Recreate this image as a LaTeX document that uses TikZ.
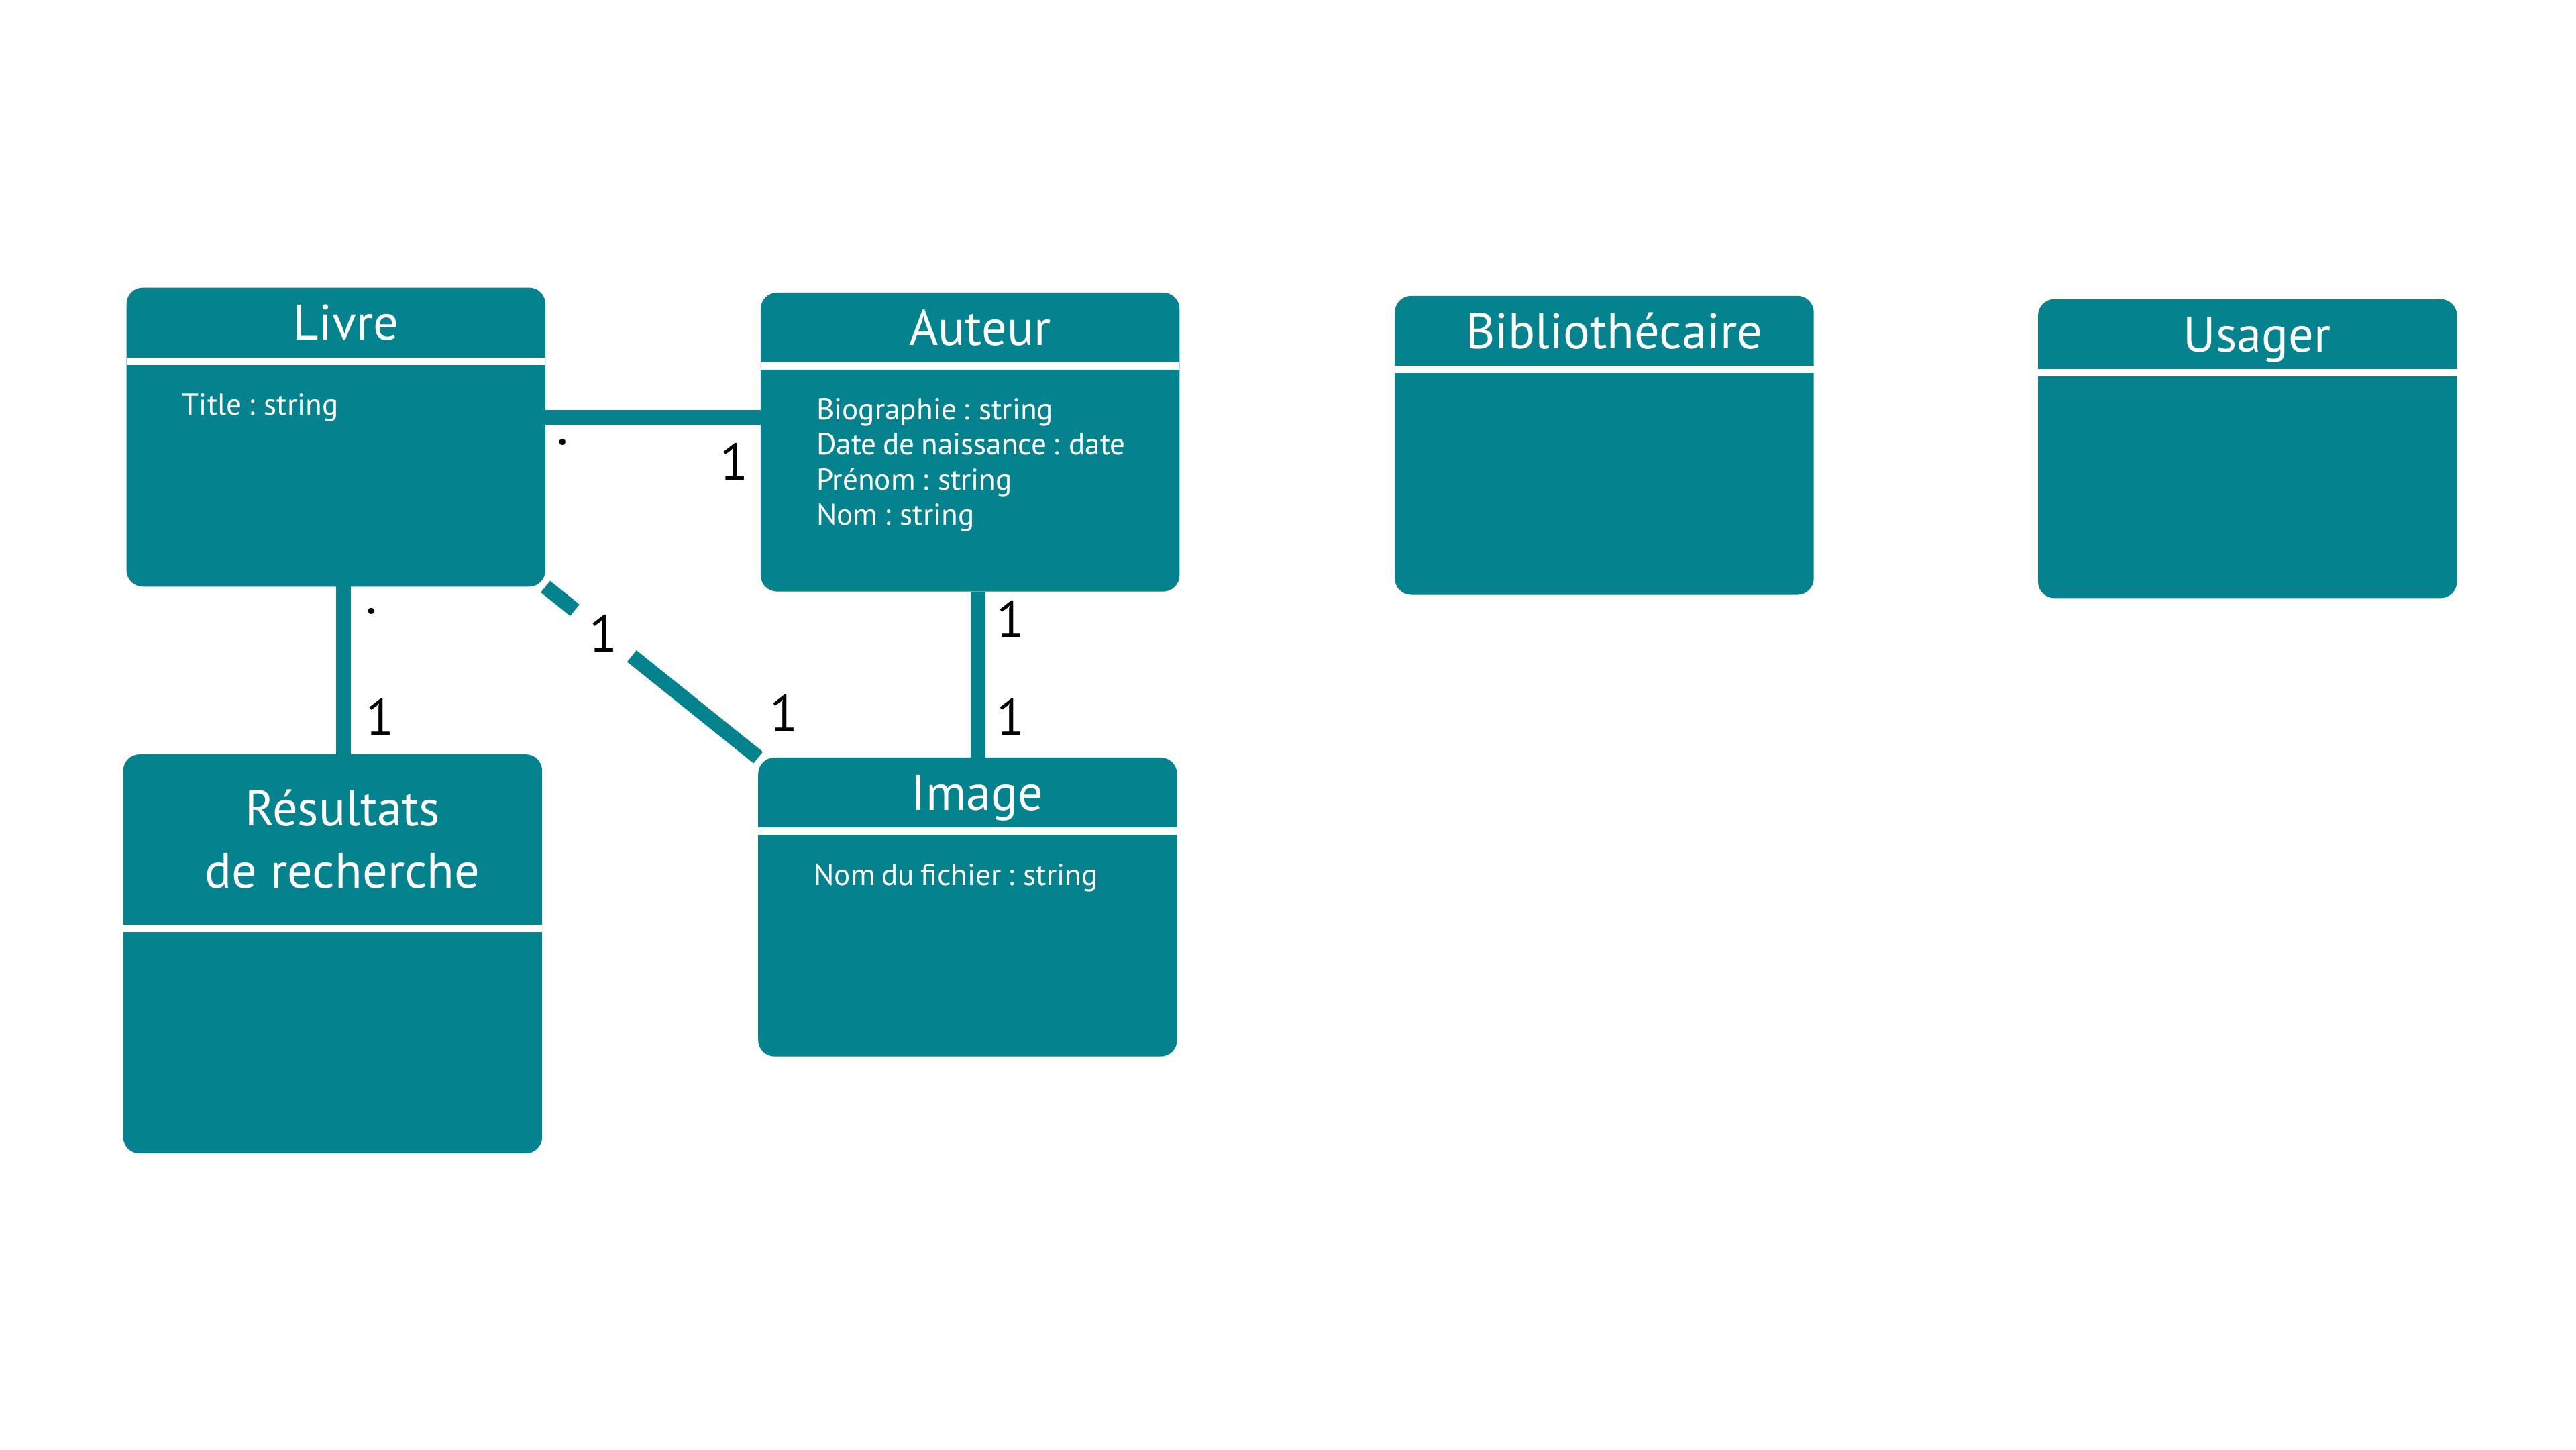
\documentclass[tikz,border=0pt]{standalone}
\usepackage{fontspec}
\setmainfont{PT Sans}
\newfontfamily\attrfont{PT Sans}[WordSpace=0.8]
\usepackage{tikz}
\usetikzlibrary{positioning,backgrounds}
\definecolor{cT}{HTML}{04828D}
\tikzset{
  hdr/.style={minimum width=5.1cm,minimum height=0.85cm,inner sep=0pt,outer sep=0pt,
              text=white,align=center,font=\fontsize{17.3}{21.6}\selectfont,
              execute at begin node=\hspace*{2.4mm}},
  oneline/.style={text height=0.43cm,text depth=0pt},
  bdy/.style={minimum width=5.1cm,minimum height=2.7cm,inner sep=0pt,outer sep=0pt},
  attr/.style={inner sep=0pt,outer sep=0pt,text=white,align=left,
               font=\attrfont\fontsize{10.5}{12.1}\selectfont},
  mult/.style={inner sep=0pt,font=\fontsize{18}{18}\selectfont},
  assoc/.style={draw=cT,line width=0.18cm},
}
\begin{document}
\begin{tikzpicture}
  \useasboundingbox (0,0) rectangle (31.36,-17.64);
  % classes
  \node[hdr,oneline](livre) at (4.09,-3.925){Livre};
  \node[bdy,below=0.09cm of livre](livre-b){};
  \node[attr,below right=0.35cm and 0.68cm of livre-b.north west](livre-a){Title : string};
  \node[hdr,oneline](auteur) at (11.81,-3.985){Auteur};
  \node[bdy,below=0.09cm of auteur](auteur-b){};
  \node[attr,below right=0.35cm and 0.68cm of auteur-b.north west](auteur-a)
    {Biographie : string\\Date de naissance : date\\Prénom : string\\Nom : string};
  \node[hdr,oneline](biblio) at (19.53,-4.025){Bibliothécaire};
  \node[bdy,below=0.09cm of biblio](biblio-b){};
  \node[hdr,oneline](usager) at (27.36,-4.065){Usager};
  \node[bdy,below=0.09cm of usager](usager-b){};
  \node[hdr,minimum height=2.07cm](result) at (4.05,-10.215){Résultats\\de recherche};
  \node[bdy,below=0.09cm of result](result-b){};
  \node[hdr,oneline](image) at (11.78,-9.645){Image};
  \node[bdy,below=0.09cm of image](image-b){};
  \node[attr,below right=0.35cm and 0.68cm of image-b.north west](image-a){Nom du fichier : string};
  \begin{scope}[on background layer]
    \foreach \c in {livre,auteur,biblio,usager,result,image}{
      \fill[cT,rounded corners=0.2cm] (\c.north west) rectangle (\c-b.south east);
      \fill[white] (\c.south west) rectangle (\c-b.north east);
    }
  \end{scope}
  % associations
  \draw[assoc] ([yshift=0.71cm]livre-b.east) -- ([yshift=0.71cm]livre-b.east -| auteur-b.west);
  \draw[assoc] ([xshift=0.095cm]livre-b.south) -- ([xshift=0.095cm]livre-b.south |- result.north);
  \draw[assoc] ([xshift=0.1cm]auteur-b.south) -- ([xshift=0.1cm]auteur-b.south |- image.north);
  \path (livre-b.south east) -- (image.north west)
    node[mult,circle,inner sep=0.11cm,pos=0.272](m5){1};
  \draw[assoc] (livre-b.south east) -- (m5);
  \draw[assoc] (m5) -- (image.north west);
  % multiplicities
  \node[mult](m1) at (6.85,-5.38){.};
  \node[mult](m2) at (8.94,-5.62){1};
  \node[mult](m3) at (4.52,-7.44){.};
  \node[mult](m4) at (4.63,-8.73){1};
  \node[mult](m6) at (9.54,-8.68){1};
  \node[mult](m7) at (12.3,-7.54){1};
  \node[mult](m8) at (12.3,-8.73){1};
\end{tikzpicture}
\end{document}
